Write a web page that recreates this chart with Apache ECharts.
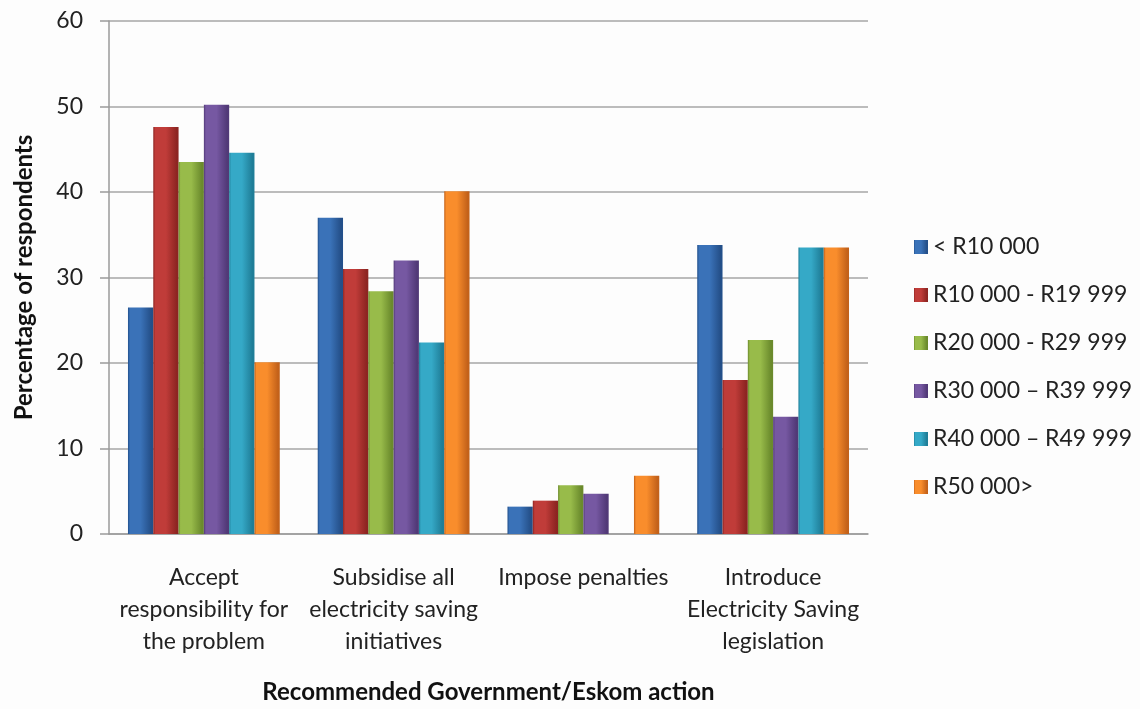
<!DOCTYPE html>
<html>
<head>
<meta charset="utf-8">
<script src="https://cdn.jsdelivr.net/npm/echarts@6/dist/echarts.min.js"></script>
<style>
html,body{margin:0;padding:0;background:#fdfdfd;overflow:hidden;}
#chart{width:1140px;height:709px;}
</style>
</head>
<body>
<div id="chart"></div>
<script>
var categories = [
  'Accept\nresponsibility for\nthe problem',
  'Subsidise all\nelectricity saving\ninitiatives',
  'Impose penalties',
  'Introduce\nElectricity Saving\nlegislation'
];
var seriesNames = ['< R10 000', 'R10 000 - R19 999', 'R20 000 - R29 999', 'R30 000 \u2013 R39 999', 'R40 000 \u2013 R49 999', 'R50 000>'];
var lt10k   = [26.5, 37.0, 3.2, 33.8];
var r10_19  = [47.6, 31.0, 3.9, 18.0];
var r20_29  = [43.5, 28.4, 5.7, 22.7];
var r30_39  = [50.2, 32.0, 4.7, 13.7];
var r40_49  = [44.6, 22.4, 0, 33.5];
var r50plus = [20.1, 40.1, 6.8, 33.5];
var yTicks = [0, 10, 20, 30, 40, 50, 60];

var allData = [lt10k, r10_19, r20_29, r30_39, r40_49, r50plus];
var palette = [
  ['#22508c', '#3a72b8', '#244f88'],
  ['#8c2421', '#c03c39', '#8e2522'],
  ['#6c8a2c', '#98bb4a', '#6a8a2c'],
  ['#523a78', '#7658a2', '#513977'],
  ['#1f7f99', '#35a9c7', '#1f7d97'],
  ['#c2611a', '#f98d2c', '#c4621a']
];

function grad(c) {
  return new echarts.graphic.LinearGradient(0, 0, 1, 0, [
    {offset: 0, color: c[0]},
    {offset: 0.08, color: c[1]},
    {offset: 0.5, color: c[1]},
    {offset: 0.92, color: c[2]},
    {offset: 1, color: c[0]}
  ]);
}

var FONT = 'Lato';
var series = allData.map(function (d, i) {
  return {
    name: seriesNames[i],
    type: 'bar',
    data: d,
    barGap: '0%',
    barCategoryGap: '20%',
    itemStyle: {color: grad(palette[i]), borderWidth: 0}
  };
});

var chart = echarts.init(document.getElementById('chart'), null, {width: 1140, height: 709});
chart.setOption({
  backgroundColor: '#fdfdfd',
  animation: false,
  textStyle: {fontFamily: FONT},
  grid: {left: 109, right: 272, top: 21, bottom: 175},
  legend: {
    orient: 'vertical',
    left: 909,
    top: 230,
    itemWidth: 14,
    itemHeight: 14,
    itemGap: 24,
    icon: 'rect',
    textStyle: {fontFamily: FONT, fontSize: 23, color: '#222', lineHeight: 24, padding: [0, 0, 0, 0]},
    data: seriesNames
  },
  xAxis: {
    type: 'category',
    data: categories,
    name: 'Recommended Government/Eskom action',
    nameLocation: 'middle',
    nameGap: 146,
    nameTextStyle: {fontFamily: FONT, fontSize: 24, fontWeight: 'bold', color: '#111'},
    axisLine: {lineStyle: {color: '#9a9a9a', width: 1.5}},
    axisTick: {show: false},
    axisLabel: {fontSize: 23, color: '#222', lineHeight: 32, margin: 28, interval: 0, fontFamily: FONT},
    splitLine: {show: false}
  },
  yAxis: {
    type: 'value',
    min: yTicks[0],
    max: yTicks[yTicks.length - 1],
    interval: 10,
    name: 'Percentage of respondents',
    nameLocation: 'middle',
    nameGap: 73,
    nameTextStyle: {fontFamily: FONT, fontSize: 24, fontWeight: 'bold', color: '#111'},
    axisLine: {show: true, lineStyle: {color: '#9a9a9a', width: 1.5}},
    axisTick: {show: true, length: 9, lineStyle: {color: '#9a9a9a', width: 1.5}},
    axisLabel: {fontSize: 23, color: '#222', margin: 26, fontFamily: FONT},
    splitLine: {lineStyle: {color: '#a6a6a6', width: 1.5}}
  },
  series: series
});
</script>
</body>
</html>
